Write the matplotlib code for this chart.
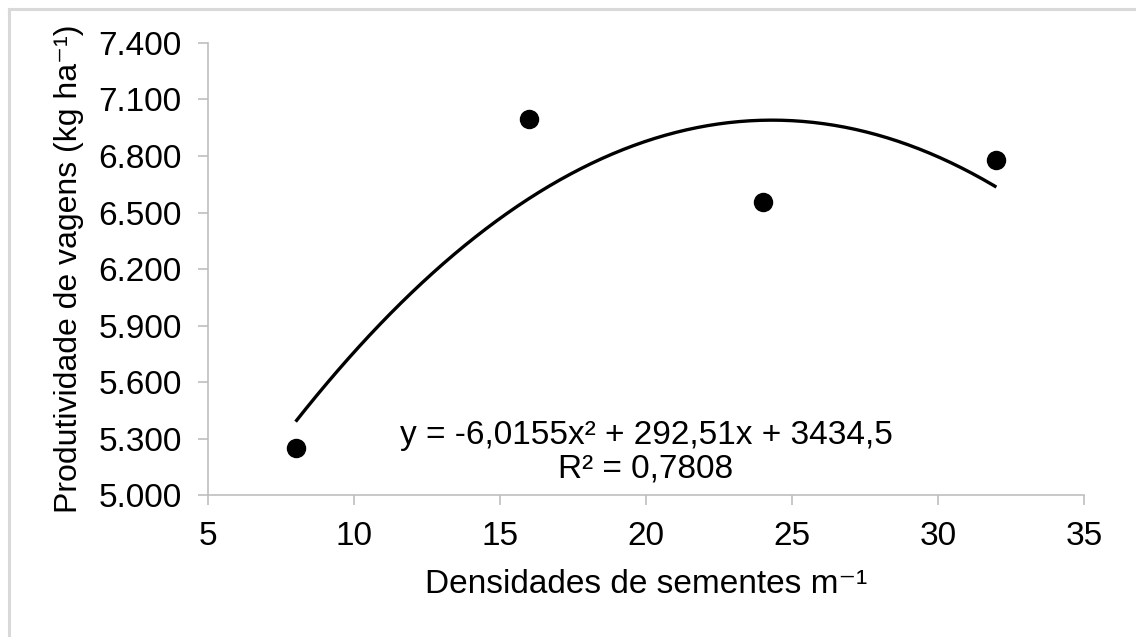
import numpy as np
import matplotlib
matplotlib.use("Agg")
import matplotlib.pyplot as plt
from matplotlib.lines import Line2D
from matplotlib.ticker import FuncFormatter

plt.rcParams["font.family"] = ["Liberation Sans", "DejaVu Sans"]

densidade = [8, 16, 24, 32]
produtividade = [5250, 6995, 6557, 6779]

# trendline coefficients as printed on the chart
coef_a = -6.0155
coef_b = 292.51
coef_c = 3434.5

x_ticks = [5, 10, 15, 20, 25, 30, 35]
y_ticks = [5000, 5300, 5600, 5900, 6200, 6500, 6800, 7100, 7400]

fig = plt.figure(figsize=(11.36, 6.37), dpi=100)
ax = fig.add_axes([0.1831, 0.2229, 0.7711, 0.7096])

xs = np.linspace(densidade[0], densidade[-1], 200)
ax.plot(xs, coef_a * xs ** 2 + coef_b * xs + coef_c, color="black", lw=2.4,
        solid_capstyle="butt")
ax.plot(densidade, produtividade, "o", color="black", markersize=13)

ax.set_xlim(5, 35)
ax.set_ylim(5000, 7400)
ax.set_xticks(x_ticks)
ax.set_yticks(y_ticks)
ax.yaxis.set_major_formatter(FuncFormatter(lambda v, p: f"{int(v):,}".replace(",", ".")))

gray = "#bfbfbf"
for s in ["top", "right"]:
    ax.spines[s].set_visible(False)
for s in ["left", "bottom"]:
    ax.spines[s].set_color(gray)
    ax.spines[s].set_linewidth(1.2)
ax.tick_params(axis="both", colors=gray, labelcolor="black", length=7, width=1.2,
               labelsize=24, pad=12)

ax.set_xlabel("Densidades de sementes m⁻¹", fontsize=24, labelpad=12)
ax.set_ylabel("Produtividade de vagens (kg ha⁻¹)", fontsize=23, labelpad=10)

ax.text(0.5, 0.095, "y = -6,0155x² + 292,51x + 3434,5\nR² = 0,7808",
        transform=ax.transAxes, ha="center", va="center", fontsize=24,
        linespacing=1.12)

fig.add_artist(Line2D([9 / 1136, 9 / 1136], [0, 1 - 9 / 637], transform=fig.transFigure,
                      color="#d9d9d9", lw=2.2))
fig.add_artist(Line2D([9 / 1136, 1], [1 - 9 / 637, 1 - 9 / 637], transform=fig.transFigure,
                      color="#d9d9d9", lw=2.2))

fig.savefig("out.png", dpi=100)
